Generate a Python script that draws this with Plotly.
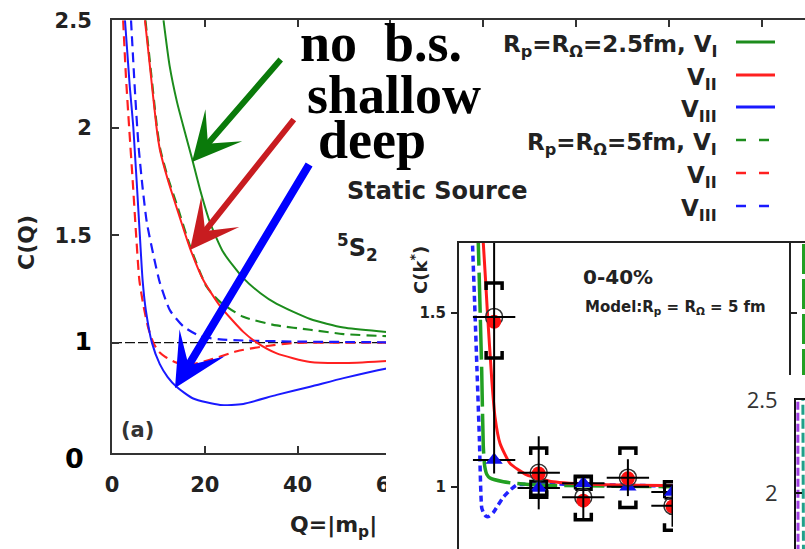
import plotly.graph_objects as go

W, H = 805, 549
def fx(p): return p / W
def fy(p): return 1 - p / H

# ---------------- panel (a): C(Q) ----------------
x_ticks = [0, 20, 40, 60, 80, 100, 120, 140]
ref_Q = [0, 150]
ref_C = [1, 1]

gI_Q = [11.1, 12.4, 14.0, 15.7, 17.2, 19.0, 21.1, 24.0, 28.3, 32.0, 35.5, 42.7, 49.9, 59.2, 70.0]
gI_C = [2.50, 2.29, 2.12, 1.98, 1.86, 1.71, 1.56, 1.42, 1.30, 1.23, 1.18, 1.11, 1.07, 1.05, 1.03]

rII_Q = [7.1, 8.2, 9.6, 10.3, 12.0, 13.9, 16.8, 19.7, 23.3, 28.3, 31.2, 35.5, 42.7, 49.9, 59.2, 70.0]
rII_C = [2.50, 2.28, 2.00, 1.90, 1.76, 1.63, 1.44, 1.29, 1.17, 1.05, 1.00, 0.95, 0.91, 0.905, 0.915, 0.93]

bIII_Q = [2.8, 3.8, 4.6, 6.0, 6.6, 7.3, 8.6, 10.3, 12.0, 13.9, 17.5, 23.3, 28.3, 35.5, 42.7, 49.9, 59.2, 70.0]
bIII_C = [2.50, 2.20, 2.00, 1.50, 1.29, 1.15, 1.00, 0.90, 0.84, 0.795, 0.74, 0.71, 0.715, 0.757, 0.795, 0.835, 0.88, 0.92]

gI5_Q = [7.2, 8.3, 9.7, 10.4, 12.0, 14.0, 16.8, 20.4, 23.3, 28.3, 35.5, 42.7, 49.9, 59.2, 70.0]
gI5_C = [2.50, 2.28, 2.00, 1.90, 1.77, 1.64, 1.45, 1.26, 1.19, 1.12, 1.08, 1.06, 1.04, 1.03, 1.02]

rII5_Q = [2.4, 3.0, 3.7, 4.5, 5.2, 5.9, 6.8, 7.8, 8.9, 10.0, 11.4, 13.5, 16.1, 21.1, 26.9, 32.0, 39.1, 50.0, 70.0]
rII5_C = [2.50, 2.24, 2.00, 1.74, 1.50, 1.29, 1.17, 1.07, 1.00, 0.96, 0.935, 0.91, 0.896, 0.92, 0.96, 0.98, 0.998, 1.0, 1.0]

bIII5_Q = [4.1, 5.0, 5.7, 6.6, 7.5, 8.9, 10.3, 12.5, 15.4, 19.0, 23.3, 28.3, 40.0, 70.0]
bIII5_C = [2.50, 2.15, 1.92, 1.72, 1.56, 1.41, 1.28, 1.15, 1.075, 1.03, 1.015, 1.01, 1.005, 1.0]

GREEN, RED, BLUE = '#1c8c1c', '#ff2020', '#1a1aff'

# ---------------- inset: C(k*) 0-40% ----------------
k_pts = [63, 143, 223, 303, 383]
C_data = [1.488, 1.040, 0.970, 1.026, 0.945]
C_model = [1.474, 1.038, 0.960, 1.024, 0.943]
C_tri = [1.077, 0.996, 1.010, 1.000, 0.985]
stat_err = [0.45, 0.105, 0.06, 0.053, 0.06]
sys_lo = [1.370, 0.970, 0.905, 0.940, 0.875]
sys_hi = [1.585, 1.111, 1.030, 1.111, 1.014]
tri_sys = [0.0, 0.02, 0.018, 0.0, 0.018]
k_err = 38

red_k = [40, 43.6, 51, 58.7, 64.6, 73.5, 91.5, 121.4, 169.1, 250, 384, 592]
red_C = [1.75, 1.70, 1.50, 1.31, 1.20, 1.125, 1.067, 1.034, 1.014, 1.006, 1.003, 1.0]
grn_k = [33.7, 34.6, 40.7, 43.6, 46, 50, 55.6, 79.5, 139.4, 384, 592]
grn_C = [1.75, 1.70, 1.335, 1.115, 1.06, 1.035, 1.025, 1.014, 1.005, 1.0, 1.0]
blu_k = [23.3, 24.2, 28, 32.3, 36.5, 40.7, 44, 48, 52.6, 61, 70.5, 79.5, 91.5, 103.5, 145.3, 384, 592]
blu_C = [1.75, 1.70, 1.53, 1.335, 1.14, 0.94, 0.925, 0.916, 0.914, 0.925, 0.948, 0.97, 0.99, 1.005, 1.008, 1.002, 1.0]

# third (partially hidden) panel
p3_x1 = [2.0, 2.1, 2.3]
p3_y1 = [2.55, 2.10, 1.65]
p3_x2 = [7.6, 7.9, 8.3]
p3_y2 = [2.55, 2.10, 1.65]

fig = go.Figure()

def add_main(x, y, color, dash=None, width=2):
    fig.add_trace(go.Scatter(x=x, y=y, mode='lines', xaxis='x', yaxis='y',
                             line=dict(color=color, width=width, dash=dash, shape='spline', smoothing=0.6),
                             hoverinfo='skip', showlegend=False))

fig.add_trace(go.Scatter(x=ref_Q, y=ref_C, mode='lines', xaxis='x', yaxis='y',
                         line=dict(color='#111', width=1.3, dash='10px,3px'), showlegend=False, hoverinfo='skip'))
add_main(gI5_Q, gI5_C, GREEN, '10px,6px', 2.2)
add_main(rII5_Q, rII5_C, RED, '10px,6px', 2.2)
add_main(bIII5_Q, bIII5_C, BLUE, '10px,6px', 2.2)
add_main(gI_Q, gI_C, GREEN)
add_main(rII_Q, rII_C, RED)
add_main(bIII_Q, bIII_C, BLUE)

# patch A (white cover)
fig.add_trace(go.Scatter(x=[0, 1, 1, 0, 0], y=[0, 0, 1, 1, 0], mode='lines', fill='toself',
                         fillcolor='white', line=dict(width=0, color='white'),
                         xaxis='x2', yaxis='y2', hoverinfo='skip', showlegend=False))

# inset curves
fig.add_trace(go.Scatter(x=blu_k, y=blu_C, mode='lines', xaxis='x3', yaxis='y3',
                         line=dict(color='#2222ff', width=3.5, dash='6px,4px', shape='spline', smoothing=0.5),
                         hoverinfo='skip', showlegend=False))
fig.add_trace(go.Scatter(x=grn_k, y=grn_C, mode='lines', xaxis='x3', yaxis='y3',
                         line=dict(color='#22a022', width=3.5, dash='40px,7px', shape='spline', smoothing=0.5),
                         hoverinfo='skip', showlegend=False))
fig.add_trace(go.Scatter(x=red_k, y=red_C, mode='lines', xaxis='x3', yaxis='y3',
                         line=dict(color='#ff1a1a', width=3, shape='spline', smoothing=0.5),
                         hoverinfo='skip', showlegend=False))

# triangle sys boxes
bw = 8 / 0.5575
bx, by = [], []
for k, c, s in zip(k_pts, C_tri, tri_sys):
    if s > 0:
        bx += [k - bw, k + bw, k + bw, k - bw, k - bw, None]
        by += [c - s, c - s, c + s, c + s, c - s, None]
fig.add_trace(go.Scatter(x=bx, y=by, mode='lines', xaxis='x3', yaxis='y3',
                         line=dict(color='black', width=3), hoverinfo='skip', showlegend=False))
fig.add_trace(go.Scatter(x=k_pts, y=C_tri, mode='markers', xaxis='x3', yaxis='y3',
                         marker=dict(symbol='triangle-up', size=15, color='#1010ee'),
                         error_x=dict(type='constant', value=k_err, color='black', thickness=2, width=0),
                         hoverinfo='skip', showlegend=False))
fig.add_trace(go.Scatter(x=k_pts, y=C_data, mode='markers', xaxis='x3', yaxis='y3',
                         marker=dict(symbol='circle-open', size=17, color='#333', line=dict(width=1.5)),
                         hoverinfo='skip', showlegend=False))
fig.add_trace(go.Scatter(x=k_pts, y=C_model, mode='markers', xaxis='x3', yaxis='y3',
                         marker=dict(symbol='circle', size=14, color='#ff1010'),
                         hoverinfo='skip', showlegend=False))
fig.add_trace(go.Scatter(x=k_pts, y=C_data, mode='markers', xaxis='x3', yaxis='y3',
                         marker=dict(size=1, color='rgba(0,0,0,0)'),
                         error_x=dict(type='constant', value=k_err, color='black', thickness=2, width=0),
                         error_y=dict(type='data', array=stat_err, color='black', thickness=2, width=0),
                         hoverinfo='skip', showlegend=False))
# systematic brackets
tl = 7 / 348
sx, sy = [], []
for k, lo, hi in zip(k_pts, sys_lo, sys_hi):
    sx += [k - bw, k - bw, k + bw, k + bw, None, k - bw, k - bw, k + bw, k + bw, None]
    sy += [hi - tl, hi, hi, hi - tl, None, lo + tl, lo, lo, lo + tl, None]
fig.add_trace(go.Scatter(x=sx, y=sy, mode='lines', xaxis='x3', yaxis='y3',
                         line=dict(color='black', width=3.5), hoverinfo='skip', showlegend=False))

# patch B
fig.add_trace(go.Scatter(x=[0, 1, 1, 0, 0], y=[0, 0, 1, 1, 0], mode='lines', fill='toself',
                         fillcolor='white', line=dict(width=0, color='white'),
                         xaxis='x4', yaxis='y4', hoverinfo='skip', showlegend=False))

# third panel
fig.add_trace(go.Scatter(x=p3_x1, y=p3_y1, mode='lines', xaxis='x5', yaxis='y5',
                         line=dict(color='#a040e0', width=3, dash='8px,3px'), hoverinfo='skip', showlegend=False))
fig.add_trace(go.Scatter(x=p3_x2, y=p3_y2, mode='lines', xaxis='x5', yaxis='y5',
                         line=dict(color='#20a08a', width=3, dash='10px,4px'), hoverinfo='skip', showlegend=False))

def bf(size, color='#222'):
    return dict(family='DejaVu Sans', weight='bold', size=size, color=color)

hidden = dict(visible=False, range=[0, 1], fixedrange=True, automargin=False)

fig.update_layout(
    width=W, height=H, margin=dict(l=0, r=0, t=0, b=0, pad=0, autoexpand=False),
    paper_bgcolor='white', plot_bgcolor='white', showlegend=False,
    xaxis=dict(domain=[fx(112), 1], range=[0, (805 - 112) / 4.64], tickvals=x_ticks,
               showline=True, linecolor='#333', linewidth=2, mirror='ticks',
               ticks='inside', ticklen=7, tickwidth=1.5, tickcolor='#333', automargin=False,
               showgrid=False, zeroline=False, tickfont=bf(21), ticklabelstandoff=12),
    yaxis=dict(domain=[fy(452.7), fy(20.2)], range=[0.488, 2.5], tickvals=[1, 1.5, 2, 2.5],
               ticktext=['<span style="font-size:25px;fill:black">1</span>', '1.5', '2', '2.5'],
               showline=True, linecolor='#333', linewidth=2, mirror=False, automargin=False,
               ticks='inside', ticklen=7, tickwidth=1.5, tickcolor='#333',
               showgrid=False, zeroline=False, tickfont=bf(21), ticklabelstandoff=14),
    xaxis2=dict(domain=[fx(386), 1], anchor='y2', **hidden),
    yaxis2=dict(domain=[0, fy(236)], anchor='x2', **hidden),
    xaxis3=dict(domain=[fx(459), fx(789)], range=[0, 592], anchor='y3', side='top',
                showline=True, linecolor='#222', linewidth=2, ticks='', showticklabels=False,
                showgrid=False, zeroline=False, automargin=False),
    yaxis3=dict(domain=[0, fy(243)], range=[0.821, 1.7003], anchor='x3', tickvals=[1, 1.5],
                showline=True, linecolor='#222', linewidth=2, mirror='ticks', automargin=False,
                ticks='outside', ticklen=6, tickwidth=1.5, tickcolor='#222',
                showgrid=False, zeroline=False, tickfont=bf(15), ticklabelstandoff=2),
    xaxis4=dict(domain=[fx(673), 1], anchor='y4', **hidden),
    yaxis4=dict(domain=[0, fy(375)], anchor='x4', **hidden),
    xaxis5=dict(domain=[fx(796), 1], range=[0, 10], anchor='y5', side='top',
                showline=True, linecolor='#111', linewidth=2, ticks='', showticklabels=False,
                showgrid=False, zeroline=False, automargin=False),
    yaxis5=dict(domain=[0, fy(400)], range=[1.699, 2.5], anchor='x5', tickvals=[2, 2.5],
                showline=True, linecolor='#111', linewidth=2, automargin=False,
                ticks='inside', ticklen=6, tickwidth=1.5, tickcolor='#111',
                showgrid=False, zeroline=False,
                tickfont=dict(family='Open Sans', size=22, color='#333'), ticklabelstandoff=12),
)

ann = []
def A(x, y, text, font, xanchor='center', yanchor='middle', angle=0):
    ann.append(dict(x=fx(x), y=fy(y), xref='paper', yref='paper', text=text, showarrow=False,
                    font=font, xanchor=xanchor, yanchor=yanchor, textangle=angle))

SERIF = dict(family='Liberation Serif', weight='bold', size=54, color='black')
A(298, 43, 'no&nbsp; b.s.', SERIF, 'left')
A(305, 95, 'shallow', SERIF, 'left')
A(316, 140, 'deep', SERIF, 'left')

A(74, 458, '0', bf(27, 'black'))
A(26, 243, 'C(Q)', bf(22), angle=-90)
A(288, 526, 'Q=|m<sub>p</sub>|', bf(22), 'left')
A(137, 430, '(a)', bf(21, '#333'))
A(345, 191, 'Static Source', bf(24), 'left')
A(335, 247, '<sup>5</sup>S<sub>2</sub>', bf(24), 'left')

# legend text
leg_y = [42, 75, 107, 140, 173, 206]
leg_t = ['R<sub>p</sub>=R<sub>Ω</sub>=2.5fm, V<sub>I</sub>', 'V<sub>II</sub>', 'V<sub>III</sub>',
         'R<sub>p</sub>=R<sub>Ω</sub>=5fm, V<sub>I</sub>', 'V<sub>II</sub>', 'V<sub>III</sub>']
for yy, t in zip(leg_y, leg_t):
    A(719, yy + 4, t, bf(23), 'right')

# inset labels
A(419, 270, 'C(k<sup>*</sup>)', bf(18), angle=-90)
A(618, 277, '0-40%', bf(20))
A(583, 307, 'Model:R<sub>p</sub> = R<sub>Ω</sub> = 5 fm', bf(15), 'left')

# arrows
def arrow(tip, tail, color, width, size):
    ann.append(dict(x=fx(tip[0]), y=fy(tip[1]), xref='paper', yref='paper', text='',
                    showarrow=True, arrowhead=3, arrowsize=size, arrowwidth=width, arrowcolor=color,
                    ax=tail[0] - tip[0], ay=tail[1] - tip[1], standoff=0))
arrow((192, 162), (282, 58), '#0a7a0a', 6, 1.35)
arrow((190, 250), (295, 118), '#c81c20', 6, 1.35)
arrow((175, 388), (310, 163), '#0000ff', 8, 1.1)

fig.update_layout(annotations=ann)

shapes = []
leg_col = [GREEN, RED, BLUE, GREEN, RED, BLUE]
for i, (yy, c) in enumerate(zip(leg_y, leg_col)):
    shapes.append(dict(type='line', xref='paper', yref='paper', x0=fx(736), x1=fx(775), y0=fy(yy), y1=fy(yy),
                       line=dict(color=c, width=3 if i < 3 else 2.5, dash=None if i < 3 else '10px,13px'),
                       layer='above'))
shapes.append(dict(type='line', xref='paper', yref='paper', x0=fx(788), x1=1, y0=fy(242), y1=fy(242),
                   line=dict(color='#222', width=2), layer='above'))
shapes.append(dict(type='line', xref='paper', yref='paper', x0=fx(803.5), x1=fx(803.5), y0=fy(244), y1=fy(375),
                   line=dict(color='#22a022', width=3, dash='30px,5px'), layer='above'))
fig.update_layout(shapes=shapes)

fig.write_html('out.html')
